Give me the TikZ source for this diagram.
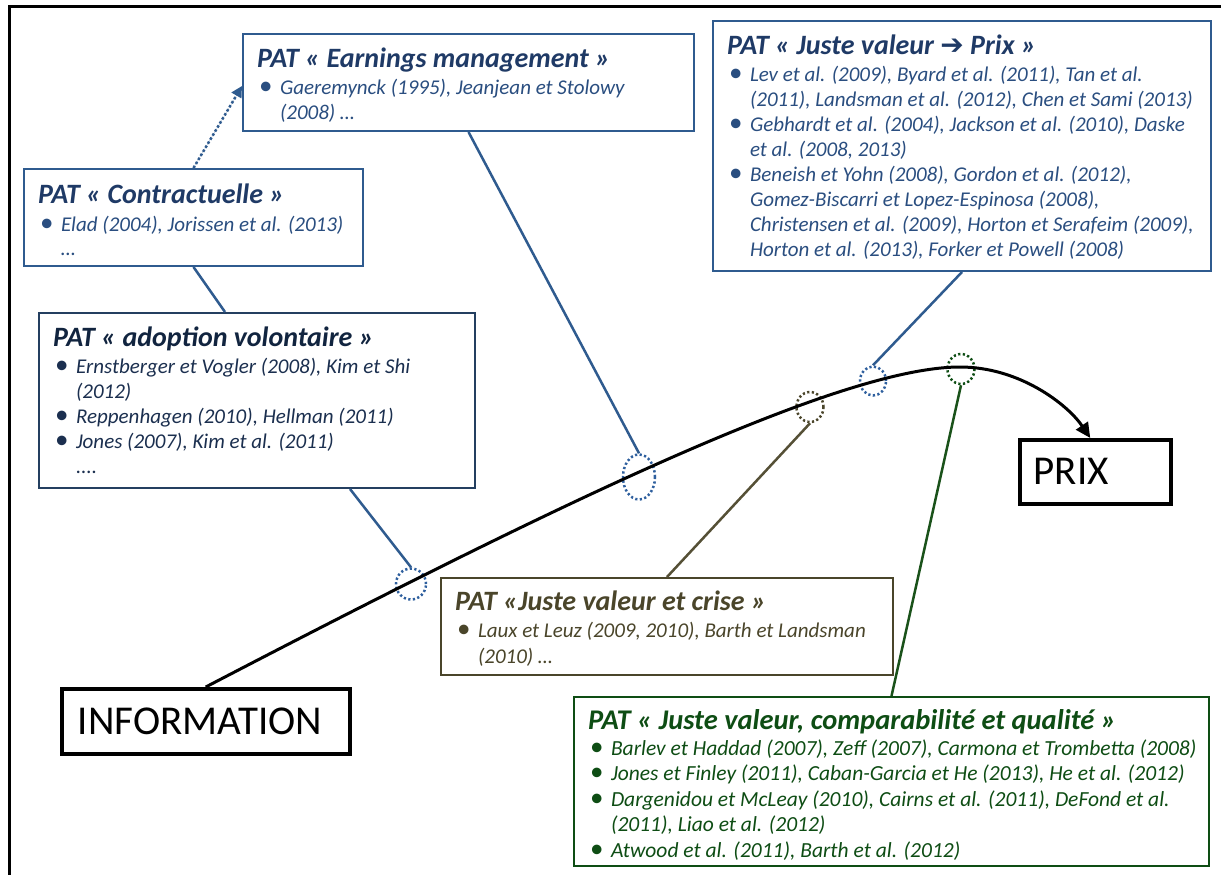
\documentclass[tikz,border=0pt]{standalone}
\usepackage{fontspec}
\setmainfont{Carlito}
\newfontfamily\djv{DejaVu Sans}
\usetikzlibrary{shapes.geometric,arrows.meta}
\definecolor{bluebox}{HTML}{2F5B8F}
\definecolor{bluetitle}{HTML}{1F3A66}
\definecolor{bluetext}{HTML}{2A4E80}
\definecolor{navybox}{HTML}{243F60}
\definecolor{navytitle}{HTML}{11243F}
\definecolor{navytext}{HTML}{1B2F4F}
\definecolor{olive}{HTML}{4A452A}
\definecolor{oliveline}{HTML}{555036}
\definecolor{darkgreen}{HTML}{0E4D14}
\definecolor{greenline}{HTML}{1A521A}
\definecolor{ellblue}{HTML}{2E5F9E}
\newlength\bx \setlength\bx{2pt}
\newlength\bw \setlength\bw{21pt}
\newcommand\bul{\upshape\fontsize{27}{27}\selectfont\textbullet}
\newcommand\Bu[1]{\par\noindent\hbox{\hspace*{\bx}\makebox[\bw][l]{\bul}#1}}
\newcommand\Co[1]{\par\noindent\hbox{\hspace*{\bx}\hspace*{\bw}#1}}
% width, height, title baseline offset, title size, title, body
\newcommand\PBox[6]{\parbox[c][#2][t]{#1}{\leftskip=14pt\lineskiplimit=-100pt\lineskip=0pt
\noindent\rule{0pt}{#3}{\fontsize{#4}{#4}\selectfont\bfseries\itshape #5}\par #6}}
\tikzset{
  pbox/.style={draw, rectangle, line width=2pt, inner sep=0pt, anchor=north west},
  bigbox/.style={draw=black, rectangle, line width=3.5pt, inner sep=0pt, anchor=north west},
  ell/.style={ellipse, inner sep=0pt, line width=2.5pt, dash pattern=on 2.2pt off 2.4pt},
  blueline/.style={draw=bluebox, line width=2.5pt},
  dotarrow/.style={dash pattern=on 2.5pt off 2.2pt, -{Triangle[length=11pt,width=11pt]}},
  mainarrow/.style={line width=3pt, -{Triangle[length=15pt,width=14pt]}}
}
\begin{document}
\begin{tikzpicture}[x=1pt,y=-1pt]
\useasboundingbox (0,0) rectangle (1221,875);
\fill[white] (0,0) rectangle (1221,875);
\draw[line width=3pt] (9,875) -- (9,7) -- (1221,7);

% boxes
\node[pbox, draw=bluebox, text=bluetext] (earn) at (242,33)
 {\PBox{451pt}{97pt}{33pt}{28}{\color{bluetitle}PAT « Earnings management »}
 {\fontsize{21}{25}\selectfont\itshape\vspace{2pt}%
 \Bu{Gaeremynck (1995), Jeanjean et Stolowy}\Co{(2008) …}}};

\node[pbox, draw=bluebox, text=bluetext] (jv) at (712,20)
 {\PBox{498pt}{250pt}{33pt}{28}{\color{bluetitle}PAT « Juste valeur {\djv\bfseries\upshape ➔} Prix »}
 {\fontsize{21}{25}\selectfont\itshape\vspace{2pt}%
 \Bu{Lev et al. (2009), Byard et al. (2011), Tan et al.}
 \Co{(2011), Landsman et al. (2012), Chen et Sami (2013)}
 \Bu{Gebhardt et al. (2004), Jackson et al. (2010), Daske}
 \Co{et al. (2008, 2013)}
 \Bu{Beneish et Yohn (2008), Gordon et al. (2012),}
 \Co{Gomez-Biscarri et Lopez-Espinosa (2008),}
 \Co{Christensen et al. (2009), Horton et Serafeim (2009),}
 \Co{Horton et al. (2013), Forker et Powell (2008)}}};

\node[pbox, draw=bluebox, text=bluetext] (contr) at (23,168)
 {\PBox{339pt}{97pt}{34pt}{28}{\color{bluetitle}PAT « Contractuelle »}
 {\fontsize{21}{24}\selectfont\itshape\vspace{4pt}%
 \Bu{Elad (2004), Jorissen et al. (2013)}\Co{…}}};

\node[pbox, draw=navybox, text=navytext] (adopt) at (38,312)
 {\PBox{436pt}{175pt}{33pt}{28}{\color{navytitle}PAT « adoption volontaire »}
 {\fontsize{21}{25}\selectfont\itshape\vspace{2pt}%
 \Bu{Ernstberger et Vogler (2008), Kim et Shi}
 \Co{(2012)}
 \Bu{Reppenhagen (2010), Hellman (2011)}
 \Bu{Jones (2007), Kim et al. (2011)}
 \Co{....}}};

\node[pbox, draw=olive, text=olive] (crise) at (440,577)
 {\PBox{452pt}{97pt}{32pt}{28}{PAT «Juste valeur et crise »}
 {\fontsize{21}{26}\selectfont\itshape\vspace{1pt}%
 \Bu{Laux et Leuz (2009, 2010), Barth et Landsman}\Co{(2010) …}}};

\node[pbox, draw=darkgreen, text=darkgreen] (comp) at (573,696)
 {\PBox{635pt}{169pt}{32pt}{28.5}{PAT « Juste valeur, comparabilité et qualité »}
 {\fontsize{21.5}{25.5}\selectfont\itshape\vspace{0.5pt}%
 \Bu{Barlev et Haddad (2007), Zeff (2007), Carmona et Trombetta (2008)}
 \Bu{Jones et Finley (2011), Caban-Garcia et He (2013), He et al. (2012)}
 \Bu{Dargenidou et McLeay (2010), Cairns et al. (2011), DeFond et al.}
 \Co{(2011), Liao et al. (2012)}
 \Bu{Atwood et al. (2011), Barth et al. (2012)}}};

\node[bigbox] (info) at (60,687)
 {\parbox[c][65pt][c]{288pt}{\fontsize{41}{41}\selectfont\hspace*{16pt}INFORMATION}};
\node[bigbox] (prix) at (1018,438)
 {\parbox[c][64pt][c]{151pt}{\fontsize{41}{41}\selectfont\hspace*{14pt}PRIX}};

% ellipses on the curve
\node[ell, draw=ellblue, minimum width=30pt, minimum height=31pt] (e1) at (411,584) {};
\node[ell, draw=ellblue, minimum width=32pt, minimum height=45pt] (e2) at (639,477) {};
\node[ell, draw=olive, minimum width=27pt, minimum height=30pt] (e3) at (810,407) {};
\node[ell, draw=ellblue, minimum width=26pt, minimum height=29pt] (e4) at (873,381) {};
\node[ell, draw=darkgreen, minimum width=27pt, minimum height=30pt] (e5) at (961,369) {};

% main curve
\coordinate (peak) at (960,367);
\draw[mainarrow] (info.north) .. controls (555,505) and (840,367) .. (peak)
  .. controls (1020,367) and (1068,405) .. ([xshift=-5pt]prix.north);

% connectors
\draw[blueline, dotarrow, fill=bluebox] (contr.north) -- ([yshift=-3.5pt]earn.west);
\draw[blueline] (contr.south) -- ([xshift=187pt]adopt.north west);
\draw[blueline] ([xshift=312pt]adopt.south west) -- (e1.north);
\draw[blueline] (earn.south) -- (e2.north);
\draw[blueline] (jv.south) -- (e4.north);
\draw[draw=oliveline, line width=2.5pt] (crise.north) -- (e3.south);
\draw[draw=greenline, line width=2.5pt] (comp.north) -- (e5.south);
\end{tikzpicture}
\end{document}
